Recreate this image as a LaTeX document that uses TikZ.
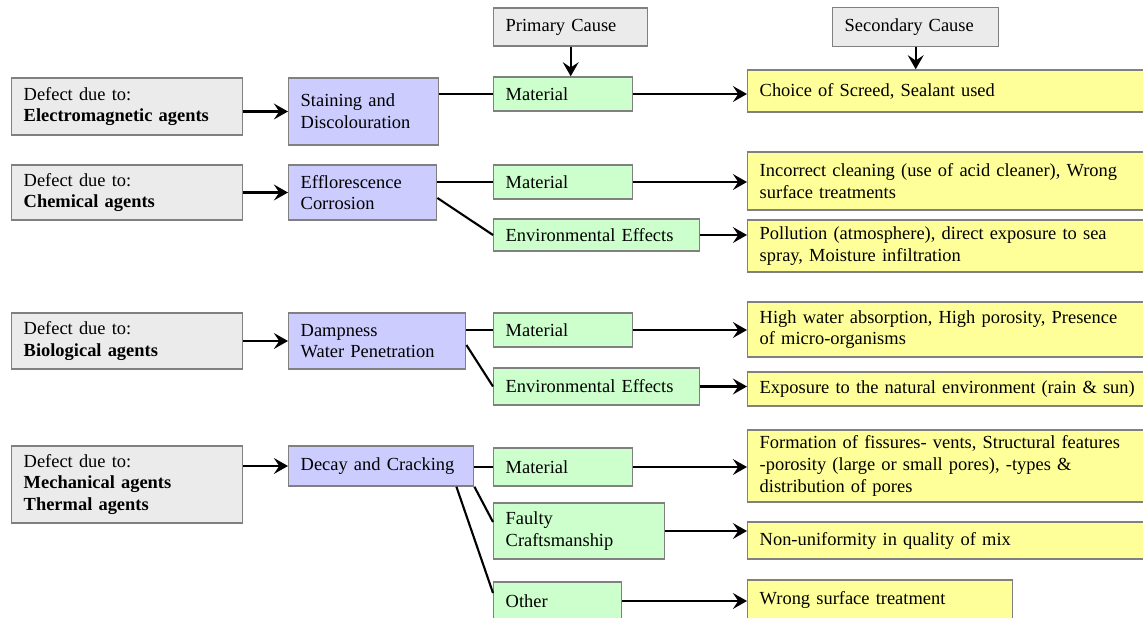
\documentclass[tikz,border=0pt]{standalone}
\usepackage{fontspec}
\setmainfont{Liberation Serif}
\usepackage{tikz}
\usetikzlibrary{arrows.meta}
\definecolor{boxline}{RGB}{128,128,128}
\definecolor{agentgray}{RGB}{235,235,235}
\definecolor{typeblue}{RGB}{204,204,255}
\definecolor{causegreen}{RGB}{204,255,204}
\definecolor{detailyellow}{RGB}{255,255,153}

\begin{document}
\begin{tikzpicture}[font=\fontsize{10.5}{12.4}\selectfont,
		box/.style={draw=boxline, line width=0.8pt, anchor=west, align=left, inner xsep=0.24cm, inner ysep=0pt},
		agentbox/.style={box, fill=agentgray},
		typebox/.style={box, fill=typeblue},
		causebox/.style={box, fill=causegreen},
		detailbox/.style={box, fill=detailyellow, text width=7.58cm},
		link/.style={line width=1.2pt},
		arrowlink/.style={link, -{Stealth[length=8pt, width=9pt, inset=3pt]}}]
		\useasboundingbox (0, 0) rectangle (22.86, -12.36);
		% headers
		\node[agentbox, text width=2.60cm, minimum height=0.76cm] (prim) at (9.86, -0.54) {Primary Cause};
		\node[agentbox, text width=2.84cm, minimum height=0.78cm] (second) at (16.64, -0.54) {Secondary Cause};
		% agents
		\node[agentbox, text width=4.14cm, minimum height=1.14cm] (agent1) at (0.22, -2.13) {Defect due to:\\\textbf{Electromagnetic agents}};
		\node[agentbox, text width=4.14cm, minimum height=1.10cm] (agent2) at (0.22, -3.85) {Defect due to:\\\textbf{Chemical agents}};
		\node[agentbox, text width=4.14cm, minimum height=1.12cm] (agent3) at (0.22, -6.82) {Defect due to:\\\textbf{Biological agents}};
		\node[agentbox, text width=4.14cm, minimum height=1.54cm] (agent4) at (0.22, -9.69) {Defect due to:\\\textbf{Mechanical agents}\\\textbf{Thermal agents}};
		% defects
		\node[typebox, text width=2.52cm, minimum height=1.34cm] (type1) at (5.76, -2.23) {Staining and\\Discolouration};
		\node[typebox, text width=2.48cm, minimum height=1.10cm] (type2) at (5.76, -3.85) {Efflorescence\\Corrosion};
		\node[typebox, text width=3.06cm, minimum height=1.12cm] (type3) at (5.76, -6.82) {Dampness\\Water Penetration};
		\node[typebox, text width=3.22cm, minimum height=0.80cm] (type4) at (5.76, -9.32) {Decay and Cracking};
		% primary causes
		\node[causebox, text width=2.30cm, minimum height=0.68cm] (mat1) at (9.86, -1.88) {Material};
		\node[causebox, text width=2.30cm, minimum height=0.68cm] (mat2) at (9.86, -3.64) {Material};
		\node[causebox, text width=3.64cm, minimum height=0.64cm] (env2) at (9.86, -4.70) {Environmental Effects};
		\node[causebox, text width=2.30cm, minimum height=0.68cm] (mat3) at (9.86, -6.60) {Material};
		\node[causebox, text width=3.64cm, minimum height=0.74cm] (env3) at (9.86, -7.73) {Environmental Effects};
		\node[causebox, text width=2.30cm, minimum height=0.76cm] (mat4) at (9.86, -9.34) {Material};
		\node[causebox, text width=2.94cm, minimum height=1.12cm] (craft4) at (9.86, -10.62) {Faulty\\Craftsmanship};
		\node[causebox, text width=2.08cm, minimum height=0.76cm] (other4) at (9.86, -12.02) {Other};
		% secondary causes
		\node[detailbox, minimum height=0.84cm] (sec1) at (14.94, -1.82) {Choice of Screed, Sealant used};
		\node[detailbox, minimum height=1.16cm] (sec2) at (14.94, -3.62) {Incorrect cleaning (use of acid cleaner), Wrong\\surface treatments};
		\node[detailbox, minimum height=1.04cm] (sec2b) at (14.94, -4.92) {Pollution (atmosphere), direct exposure to sea\\spray, Moisture infiltration};
		\node[detailbox, minimum height=1.10cm] (sec3) at (14.94, -6.59) {High water absorption, High porosity, Presence\\of micro-organisms};
		\node[detailbox, minimum height=0.68cm] (sec3b) at (14.94, -7.78) {Exposure to the natural environment (rain \& sun)};
		\node[detailbox, minimum height=1.44cm] (sec4) at (14.94, -9.32) {Formation of fissures- vents, Structural features\\-porosity (large or small pores), -types \&\\distribution of pores};
		\node[detailbox, minimum height=0.74cm] (sec4b) at (14.94, -10.81) {Non-uniformity in quality of mix};
		\node[detailbox, text width=4.82cm, minimum height=0.80cm] (sec4c) at (14.94, -12.00) {Wrong surface treatment};
		% headers to columns
		\draw[arrowlink] (prim.south) -- (prim.south |- mat1.north);
		\draw[arrowlink] (second.south) -- (second.south |- sec1.north);
		% agents to defects
		\foreach \i in {1,...,4}
			\draw[arrowlink] (agent\i.east |- type\i.west) -- (type\i.west);
		% defects to primary causes
		\foreach \i in {1,...,4}
			\draw[link] (mat\i.west -| type\i.east) -- (mat\i.west);
		\draw[link] ([yshift=-0.11cm]type2.east) -- (env2.west);
		\draw[link] ([yshift=-0.08cm]type3.east) -- (env3.west);
		\draw[link] (type4.south east) -- ([yshift=0.18cm]craft4.west);
		\draw[link] ([xshift=-0.36cm]type4.south east) -- ([yshift=0.16cm]other4.west);
		% primary to secondary causes
		\draw[arrowlink] (mat1.east) -- (mat1.east -| sec1.west);
		\draw[arrowlink] (mat2.east) -- (mat2.east -| sec2.west);
		\draw[arrowlink] (env2.east) -- (env2.east -| sec2b.west);
		\draw[arrowlink] (mat3.east) -- (mat3.east -| sec3.west);
		\draw[arrowlink] (env3.east) -- (env3.east -| sec3b.west);
		\draw[arrowlink] (mat4.east) -- (mat4.east -| sec4.west);
		\draw[arrowlink] (craft4.east) -- (craft4.east -| sec4b.west);
		\draw[arrowlink] (other4.east) -- (other4.east -| sec4c.west);
	\end{tikzpicture}
\end{document}
